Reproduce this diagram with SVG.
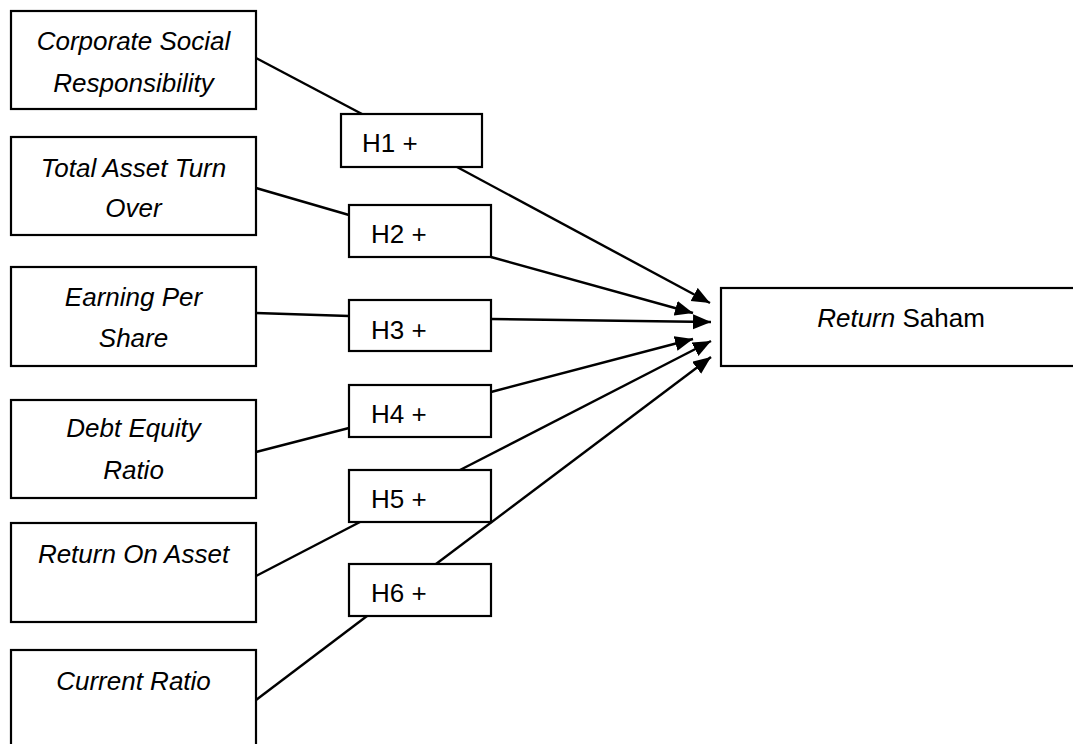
<svg xmlns="http://www.w3.org/2000/svg" width="1073" height="744" viewBox="0 0 1073 744">
<style>
.box{fill:#fff;stroke:#000;stroke-width:2.2}
.t{font-family:"Liberation Sans",Arial,sans-serif;font-size:26px;fill:#000}
.i{font-style:italic}
.c{text-anchor:middle}
.ln{stroke:#000;stroke-width:2.4;fill:none}
</style>
<defs>
<marker id="ah" markerUnits="userSpaceOnUse" markerWidth="20" markerHeight="16" refX="18" refY="7.5" orient="auto">
<path d="M0,0 L18,7.5 L0,15 z" fill="#000"/>
</marker>
</defs>
<rect width="1073" height="744" fill="#fff"/>
<g id="connectors">
<line class="ln" x1="256" y1="58" x2="362" y2="114"/>
<line class="ln" x1="457" y1="167" x2="710" y2="303" marker-end="url(#ah)"/>
<line class="ln" x1="256" y1="188" x2="349" y2="215"/>
<line class="ln" x1="491" y1="257" x2="693" y2="313" marker-end="url(#ah)"/>
<line class="ln" x1="256" y1="313" x2="349" y2="316"/>
<line class="ln" x1="491" y1="319" x2="711" y2="322" marker-end="url(#ah)"/>
<line class="ln" x1="256" y1="452" x2="349" y2="428"/>
<line class="ln" x1="491" y1="392" x2="693" y2="339" marker-end="url(#ah)"/>
<line class="ln" x1="256" y1="576" x2="360" y2="522"/>
<line class="ln" x1="460" y1="470" x2="711" y2="341" marker-end="url(#ah)"/>
<line class="ln" x1="256" y1="700" x2="367" y2="616"/>
<line class="ln" x1="436" y1="564" x2="711" y2="357" marker-end="url(#ah)"/>
</g>
<g id="csr">
<rect class="box" x="11" y="11" width="245" height="98"/>
<text class="t i c" x="133.5" y="50">Corporate Social</text>
<text class="t i c" x="133.5" y="92">Responsibility</text>
</g>
<g id="tato">
<rect class="box" x="11" y="137" width="245" height="98"/>
<text class="t i c" x="133.5" y="177">Total Asset Turn</text>
<text class="t i c" x="133.5" y="217">Over</text>
</g>
<g id="eps">
<rect class="box" x="11" y="267" width="245" height="99"/>
<text class="t i c" x="133.5" y="306">Earning Per</text>
<text class="t i c" x="133.5" y="347">Share</text>
</g>
<g id="der">
<rect class="box" x="11" y="400" width="245" height="98"/>
<text class="t i c" x="133.5" y="437">Debt Equity</text>
<text class="t i c" x="133.5" y="479">Ratio</text>
</g>
<g id="roa">
<rect class="box" x="11" y="523" width="245" height="99"/>
<text class="t i c" x="133.5" y="563">Return On Asset</text>
</g>
<g id="cr">
<rect class="box" x="11" y="650" width="245" height="110"/>
<text class="t i c" x="133.5" y="690">Current Ratio</text>
</g>
<g id="h1">
<rect class="box" x="341" y="114" width="141" height="53"/>
<text class="t" x="362" y="152">H1 +</text>
</g>
<g id="h2">
<rect class="box" x="349" y="205" width="142" height="52"/>
<text class="t" x="371" y="243">H2 +</text>
</g>
<g id="h3">
<rect class="box" x="349" y="300" width="142" height="51"/>
<text class="t" x="371" y="339">H3 +</text>
</g>
<g id="h4">
<rect class="box" x="349" y="385" width="142" height="52"/>
<text class="t" x="371" y="423">H4 +</text>
</g>
<g id="h5">
<rect class="box" x="349" y="470" width="142" height="52"/>
<text class="t" x="371" y="508">H5 +</text>
</g>
<g id="h6">
<rect class="box" x="349" y="564" width="142" height="52"/>
<text class="t" x="371" y="602">H6 +</text>
</g>
<g id="return-saham">
<rect class="box" x="721" y="288" width="370" height="78"/>
<text class="t" x="901" y="327" text-anchor="middle"><tspan font-style="italic">Return</tspan> Saham</text>
</g>
</svg>
